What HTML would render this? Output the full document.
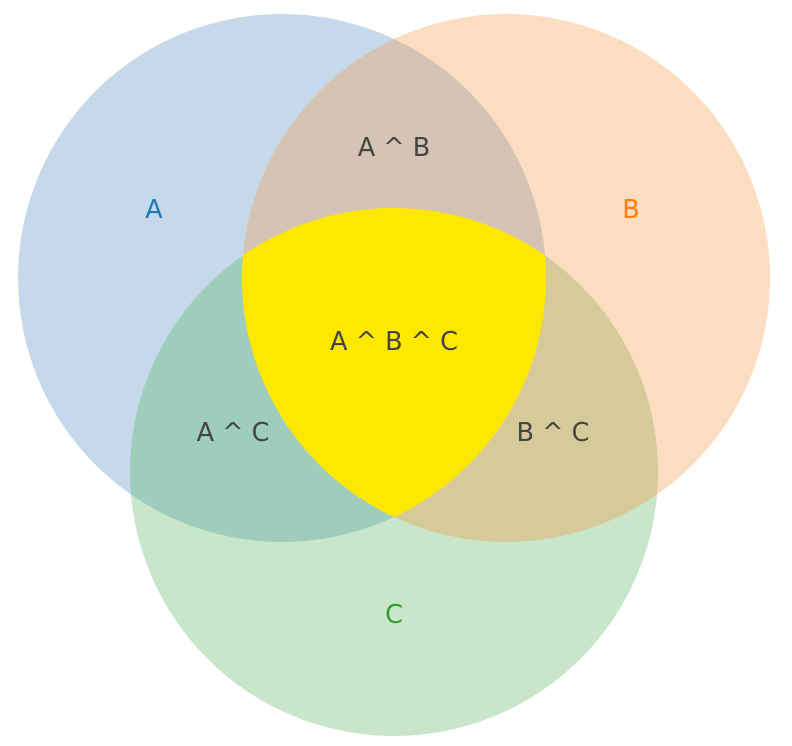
<!DOCTYPE html>
<html><head><meta charset="utf-8"><style>
html,body{margin:0;padding:0;background:#fff;}
svg{display:block;}
text{font-family:"DejaVu Sans","Liberation Sans",sans-serif;font-size:25.5px;text-anchor:middle;dominant-baseline:central;}
</style></head><body>
<svg width="792" height="746" viewBox="0 0 792 746" xmlns="http://www.w3.org/2000/svg">
<defs>
<clipPath id="cA"><circle cx="282" cy="278" r="264"/></clipPath>
<clipPath id="cB"><circle cx="506" cy="278" r="264"/></clipPath>
<clipPath id="cAB" clip-path="url(#cA)"><circle cx="506" cy="278" r="264"/></clipPath>
</defs>
<circle cx="282" cy="278" r="264" fill="#c5d9eb"/>
<circle cx="506" cy="278" r="264" fill="#fdddc2"/>
<circle cx="394" cy="472" r="264" fill="#cae6ca"/>
<circle cx="506" cy="278" r="264" fill="#d5c4b3" clip-path="url(#cA)"/>
<circle cx="394" cy="472" r="264" fill="#9ecdbb" clip-path="url(#cA)"/>
<circle cx="394" cy="472" r="264" fill="#d7ca9a" clip-path="url(#cB)"/>
<circle cx="394" cy="472" r="264" fill="#ffe800" clip-path="url(#cAB)"/>
<text x="154" y="210" fill="#1f77b4">A</text>
<text x="631" y="210" fill="#ff7f0e">B</text>
<text x="394" y="615" fill="#2ca02c">C</text>
<text x="394" y="148" fill="#444">A ^ B</text>
<text x="394" y="342" fill="#444">A ^ B ^ C</text>
<text x="233" y="433" fill="#444">A ^ C</text>
<text x="553" y="433" fill="#444">B ^ C</text>
</svg>
</body></html>
